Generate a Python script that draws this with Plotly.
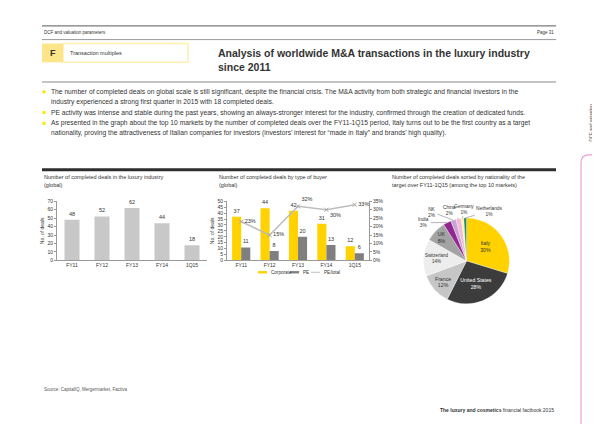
import math
import plotly.graph_objects as go

W, H = 600, 424


def px(x):
    return x / W


def py(y):
    return 1 - y / H


FONT = "Liberation Sans, Arial, sans-serif"
TXT = "#333333"

# ---------------- data ----------------
periods = ["FY11", "FY12", "FY13", "FY14", "1Q15"]
total_deals = [48, 52, 62, 44, 18]

corporate_deals = [37, 44, 42, 31, 12]
pe_deals = [11, 8, 20, 13, 6]
pe_share = [0.23, 0.15, 0.32, 0.30, 0.33]
series_names = ["Corporate", "PE", "PE/total"]

countries = ["Italy", "United States", "France", "Switzerland", "UK",
             "India", "NK", "China", "Germany", "Netherlands"]
country_share = [30, 28, 12, 14, 8, 3, 2, 2, 1, 1]
country_colors = ["#FFD200", "#3C3C3C", "#C6C6C6", "#EDEDED", "#A3A3A3",
                  "#91278F", "#C9A3D6", "#F2BAD8", "#FFF1A6", "#168B6E"]

bullets = [
    "The number of completed deals on global scale is still significant, despite the financial crisis. The M&A activity from both strategic and financial investors in the",
    "industry experienced a strong first quarter in 2015 with 18 completed deals.",
    "PE activity was intense and stable during the past years, showing an always-stronger interest for the industry, confirmed through the creation of dedicated funds.",
    "As presented in the graph about the top 10 markets by the number of completed deals over the FY11-1Q15 period, Italy turns out to be the first country as a target",
    "nationality, proving the attractiveness of Italian companies for investors (investors\u2019 interest for \u201cmade in Italy\u201d and brands\u2019 high quality).",
]
bullet_y = [82, 92, 103, 114, 124]
bullet_mark = [True, False, True, True, False]

YELLOW = "#FFD200"
PE_GREY = "#7F7F7F"
LINE_GREY = "#BDBDBD"

fig = go.Figure()

# ---------------- chart 1 ----------------
fig.add_trace(go.Bar(
    x=periods, y=total_deals, xaxis="x", yaxis="y",
    marker=dict(color="#C8C8C8", line=dict(width=0)), width=0.5,
    text=total_deals, textposition="outside",
    textfont=dict(size=5.5, color=TXT), cliponaxis=False,
    showlegend=False, hoverinfo="skip"))

# ---------------- chart 2 ----------------
fig.add_trace(go.Bar(
    x=periods, y=corporate_deals, xaxis="x2", yaxis="y2", name=series_names[0],
    marker=dict(color=YELLOW, line=dict(width=0)),
    text=corporate_deals, textposition="outside", showlegend=False,
    textfont=dict(size=5.5, color=TXT), cliponaxis=False))
fig.add_trace(go.Bar(
    x=periods, y=pe_deals, xaxis="x2", yaxis="y2", name=series_names[1],
    marker=dict(color=PE_GREY, line=dict(width=0)),
    text=pe_deals, textposition="outside", showlegend=False,
    textfont=dict(size=5.5, color=TXT), cliponaxis=False))
fig.add_trace(go.Scatter(
    x=periods, y=pe_share, xaxis="x2", yaxis="y3", name=series_names[2],
    mode="lines+markers+text", showlegend=False,
    line=dict(color=LINE_GREY, width=1.5),
    marker=dict(color="#A8A8A8", size=4, symbol="x-thin", line=dict(width=1, color="#A8A8A8")),
    text=[f"{round(v*100)}%" for v in pe_share],
    textposition=["middle right", "middle right", "top right", "bottom right", "middle right"],
    textfont=dict(size=5.5, color=TXT), cliponaxis=False))

# ---------------- chart 3 (pie) ----------------
big = [v >= 5 for v in country_share]
fig.add_trace(go.Pie(
    labels=countries, values=country_share, sort=False, direction="clockwise",
    rotation=0, domain=dict(x=[px(415), px(502)], y=[py(297), py(210)]),
    marker=dict(colors=country_colors, line=dict(color="#FFFFFF", width=0.3)),
    text=[f"{c}<br>{v}%" if b else "" for c, v, b in zip(countries, country_share, big)],
    textinfo="text", textposition=["inside" if b else "none" for b in big],
    insidetextorientation="horizontal",
    insidetextfont=dict(size=5.2, color=["#333333", "#FFFFFF", "#333333", "#333333", "#333333",
                                         "#333333", "#333333", "#333333", "#333333", "#333333"]),
    showlegend=False, hoverinfo="skip"))

# labels of small slices with leader lines
cx, cy, r = (415 + 502) / 2, (210 + 297) / 2, (502 - 415) / 2
total = sum(country_share)
offsets = {"India": (-23, 0), "NK": (-21, -8), "China": (-9, -8),
           "Germany": (2, -9), "Netherlands": (24, -7)}
annotations = []
cum = 0
for c, v in zip(countries, country_share):
    mid = (cum + v / 2) / total * 2 * math.pi
    cum += v
    if c in offsets:
        ex = cx + r * math.sin(mid)
        ey = cy - r * math.cos(mid)
        ax, ay = offsets[c]
        annotations.append(dict(
            xref="paper", yref="paper", x=px(ex), y=py(ey), ax=ax, ay=ay,
            text=f"{c}<br>{v}%", showarrow=True, arrowhead=0, arrowwidth=0.5,
            arrowcolor="#666666", standoff=0, startstandoff=0,
            font=dict(size=4.8, color=TXT, family=FONT)))


# ---------------- page text ----------------
def note(x, y, text, size=5, color=TXT, xanchor="left", yanchor="middle", **kw):
    annotations.append(dict(xref="paper", yref="paper", x=px(x), y=py(y), text=text,
                            showarrow=False, xanchor=xanchor, yanchor=yanchor,
                            font=dict(size=size, color=color, family=FONT), **kw))


note(34, 22, "DCF and valuation parameters", size=4.5)
note(548, 22, "Page 31", size=4.5, xanchor="right")
note(44.5, 42.5, "<b>F</b>", size=9, xanchor="center")
note(60, 42.5, "Transaction multiples", size=5.5)
note(208, 34, "<b>Analysis of worldwide M&A transactions in the luxury industry<br>since 2011</b>",
     size=10.5, yanchor="top", align="left")
for t, yv in zip(bullets, bullet_y):
    note(41, yv, t, size=6.7)

note(34, 168, "Number of completed deals in the luxury industry", size=5.5)
note(34, 176, "(global)", size=5.5)
note(209, 168, "Number of completed deals by type of buyer", size=5.5)
note(209, 176, "(global)", size=5.5)
note(382, 168, "Number of completed deals sorted by nationality of the", size=5.5)
note(382, 176, "target over FY11-1Q15 (among the top 10 markets)", size=5.5)

note(34, 384, "Source: CapitalIQ, Mergermarket, Factiva", size=4.5, color="#555555")
note(548, 405, "<b>The luxury and cosmetics</b> financial factbook 2015", size=5, xanchor="right")
note(586, 113, "DCF and valuation<br>parameters", size=4.5, color="#555555",
     xanchor="center", textangle=-90)

# manual compact legend for chart 2
legend_x = [250, 282, 303]
for name, lx in zip(series_names, legend_x):
    note(lx + 10.5, 265, name, size=4.6)

# ---------------- shapes ----------------
shapes = []


def hline(y, x0=34, x1=548, color="#8A8A8A", width=1):
    shapes.append(dict(type="line", xref="paper", yref="paper", x0=px(x0), x1=px(x1),
                       y0=py(y), y1=py(y), line=dict(color=color, width=width)))


hline(15, color="#7A7A7A", width=1.2)
hline(29, color="#9A9A9A", width=1)
hline(72, color="#8A8A8A", width=1)
hline(161, color="#2E2E2E", width=3)

shapes.append(dict(type="rect", xref="paper", yref="paper", x0=px(55), x1=px(180),
                   y0=py(52), y1=py(33), fillcolor="#FFFFFF",
                   line=dict(color="#FFF0B0", width=1.5)))
shapes.append(dict(type="rect", xref="paper", yref="paper", x0=px(34), x1=px(55),
                   y0=py(52), y1=py(33), fillcolor="#FFE58A", line=dict(width=0)))
for yv, m in zip(bullet_y, bullet_mark):
    if m:
        shapes.append(dict(type="rect", xref="paper", yref="paper", x0=px(34.5), x1=px(37.5),
                           y0=py(yv + 1.5), y1=py(yv - 1.5), fillcolor="#FFE600",
                           line=dict(width=0)))
# legend swatches
shapes.append(dict(type="rect", xref="paper", yref="paper", x0=px(250), x1=px(259),
                   y0=py(266.2), y1=py(263.8), fillcolor=YELLOW, line=dict(width=0)))
shapes.append(dict(type="rect", xref="paper", yref="paper", x0=px(282), x1=px(291),
                   y0=py(266.2), y1=py(263.8), fillcolor=PE_GREY, line=dict(width=0)))
shapes.append(dict(type="line", xref="paper", yref="paper", x0=px(303), x1=px(312),
                   y0=py(265), y1=py(265), line=dict(color=LINE_GREY, width=1)))
# pink tab outline
shapes.append(dict(type="path", xref="paper", yref="paper",
                   path=f"M {px(600)},{py(146)} L {px(581)},{py(146)} "
                        f"Q {px(573)},{py(146)} {px(573)},{py(154)} L {px(573)},{py(424)}",
                   line=dict(color="#E8A2CF", width=1.2)))

# ---------------- layout ----------------
tick = dict(size=5, color=TXT, family=FONT)
common_x = dict(showline=True, linecolor="#9A9A9A", linewidth=1, ticks="",
                showgrid=False, zeroline=False, tickfont=tick, fixedrange=True)
common_y = dict(showline=True, linecolor="#9A9A9A", linewidth=1, ticks="outside",
                ticklen=2, tickcolor="#9A9A9A", showgrid=False, zeroline=False,
                tickfont=tick, fixedrange=True)

fig.update_layout(
    width=W, height=H, margin=dict(l=0, r=0, t=0, b=0),
    paper_bgcolor="#FFFFFF", plot_bgcolor="rgba(0,0,0,0)",
    font=dict(family=FONT, color=TXT),
    barmode="group", bargap=0.36, bargroupgap=0, showlegend=False,
    xaxis=dict(domain=[px(49), px(199)], anchor="y", **common_x),
    yaxis=dict(domain=[py(253), py(193)], anchor="x", range=[0, 70], dtick=10,
               title=dict(text="No. of deals", font=dict(size=5, color=TXT), standoff=2),
               **common_y),
    xaxis2=dict(domain=[px(219), px(361)], anchor="y2", **common_x),
    yaxis2=dict(domain=[py(253), py(193)], anchor="x2", range=[0, 50], dtick=5,
                title=dict(text="No. of deals", font=dict(size=5, color=TXT), standoff=2),
                **common_y),
    yaxis3=dict(overlaying="y2", anchor="x2", side="right", range=[0, 0.35], dtick=0.05,
                tickformat=".0%", **common_y),
    annotations=annotations,
    shapes=shapes,
)

fig.write_html("out.html")
